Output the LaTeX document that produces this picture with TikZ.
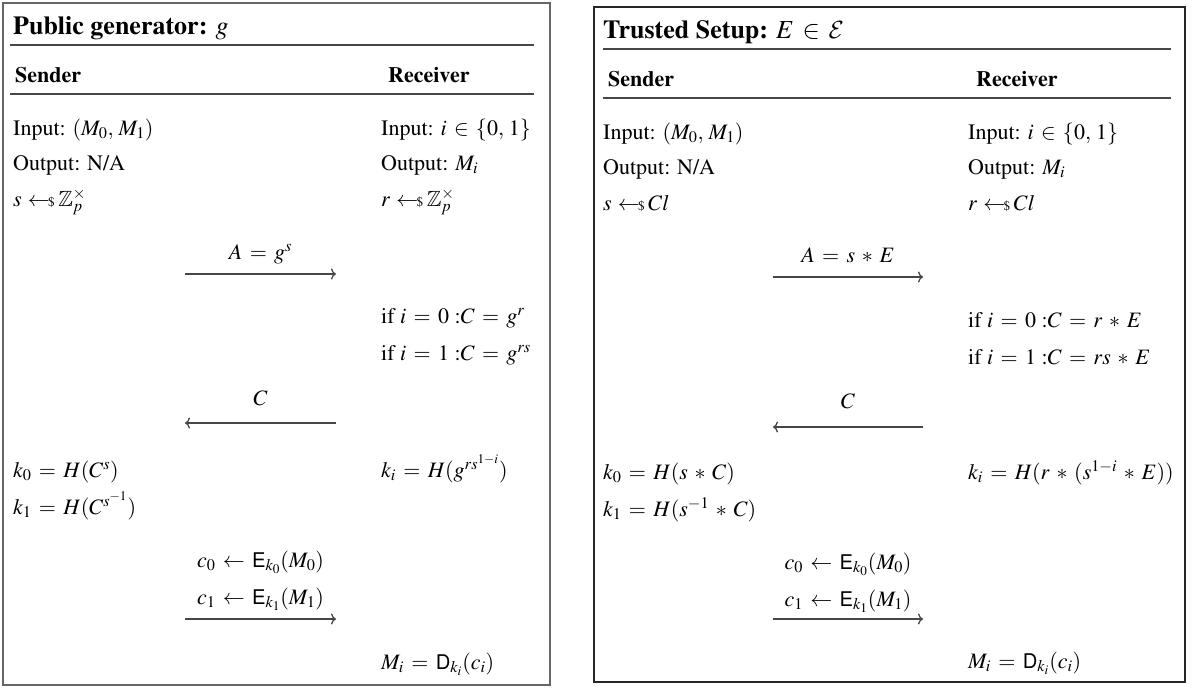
\documentclass[tikz,border=0pt]{standalone}
\usepackage[T1]{fontenc}
\usepackage{mathptmx}
\usepackage[scaled=0.92]{helvet}
\usepackage{amsmath,amssymb}
\DeclareMathAlphabet{\mathcal}{OMS}{cmsy}{m}{n}
\usetikzlibrary{arrows.meta}
\newcommand{\smp}{\mskip5mu{\leftarrow}\mskip-1.5mu{\scriptscriptstyle\$}\mskip3mu}
\newcommand{\cm}{,\,}
\medmuskip=5.5mu plus 2mu minus 2mu
\thickmuskip=6mu plus 3mu minus 1mu
\tikzset{
  txt/.style={anchor=base west,inner sep=0pt,font=\fontsize{22}{26}\selectfont},
  lbl/.style={anchor=base,inner sep=0pt,font=\fontsize{22}{26}\selectfont},
  hdr/.style={anchor=base west,inner sep=0pt,font=\fontsize{22}{26}\selectfont\bfseries},
  ttl/.style={anchor=base west,inner sep=0pt,font=\fontsize{26}{30}\selectfont\bfseries},
  rulex/.style={draw=black!72,line width=1.6pt},
  msg/.style={draw=black!72,line width=1.3pt,-{To[length=5pt,width=11pt]}},
}
\begin{document}
\begin{tikzpicture}[x=1pt,y=-1pt]
\useasboundingbox (0,0) rectangle (1194,688);
% ---------------- left box ----------------
\draw[draw=black!60,line width=1.8pt] (3,3) rectangle (550,685);
\node[ttl] (Ltitle) at (13,34) {Public generator: $g$};
\draw[rulex] (10,45) -- (534,45);
\node[hdr] (Lsend) at (15,82) {Sender};
\node[hdr] (Lrecv) at (388,82) {Receiver};
\draw[rulex] (10,94) -- (534,94);
\node[txt] (Lin1) at (13,135) {Input: $(M_0\cm M_1)$};
\node[txt] (Lin2) at (381,135) {Input: $i \in \{0\cm 1\}$};
\node[txt] (Lout1) at (13,170) {Output: N/A};
\node[txt] (Lout2) at (381,170) {Output: $M_i$};
\node[txt] (Ls) at (13,206) {$s \smp \mathbb{Z}_p^{\times}$};
\node[txt] (Lr) at (381,206) {$r \smp \mathbb{Z}_p^{\times}$};
\coordinate (La1) at (185,274);
\coordinate (La2) at (336,274);
\node[lbl] (LAlbl) at (260.5,259) {$A = g^{s}$};
\draw[msg] (La1) -- (La2);
\node[txt] (Lif0) at (381,323) {if $i = 0$ :$C = g^{r}$};
\node[txt] (Lif1) at (381,360) {if $i = 1$ :$C = g^{rs}$};
\coordinate (Lb1) at (336,423);
\coordinate (Lb2) at (185,423);
\node[lbl] (LClbl) at (260.5,405) {$C$};
\draw[msg] (Lb1) -- (Lb2);
\node[txt] (Lk0) at (13,477) {$k_0 = H(C^{s})$};
\node[txt] (Lki) at (381,477) {$k_i = H(g^{rs^{1-i}})$};
\node[txt] (Lk1) at (13,514) {$k_1 = H(C^{s^{-1}})$};
\node[lbl] (Lc0) at (260.5,567) {$c_0 \leftarrow \textsf{E}_{k_0}(M_0)$};
\node[lbl] (Lc1) at (260.5,604) {$c_1 \leftarrow \textsf{E}_{k_1}(M_1)$};
\coordinate (Lc1a) at (185,619);
\coordinate (Lc1b) at (336,619);
\draw[msg] (Lc1a) -- (Lc1b);
\node[txt] (LMi) at (381,669) {$M_i = \textsf{D}_{k_i}(c_i)$};
% ---------------- right box ----------------
\draw[draw=black!85,line width=1.6pt] (594,7) rectangle (1185,682);
\node[ttl] (Rtitle) at (603,38) {Trusted Setup: $E \in \mathcal{E}$};
\draw[rulex] (603,49) -- (1171,49);
\node[hdr] (Rsend) at (608,86) {Sender};
\node[hdr] (Rrecv) at (976,86) {Receiver};
\draw[rulex] (603,98) -- (1171,98);
\node[txt] (Rin1) at (603,139) {Input: $(M_0\cm M_1)$};
\node[txt] (Rin2) at (968,139) {Input: $i \in \{0\cm 1\}$};
\node[txt] (Rout1) at (603,174) {Output: N/A};
\node[txt] (Rout2) at (968,174) {Output: $M_i$};
\node[txt] (Rs) at (603,210) {$s \smp Cl$};
\node[txt] (Rr) at (968,210) {$r \smp Cl$};
\coordinate (Ra1) at (773,277);
\coordinate (Ra2) at (923,277);
\node[lbl] (RAlbl) at (848,262) {$A = s \ast E$};
\draw[msg] (Ra1) -- (Ra2);
\node[txt] (Rif0) at (968,327) {if $i = 0$ :$C = r \ast E$};
\node[txt] (Rif1) at (968,364) {if $i = 1$ :$C = rs \ast E$};
\coordinate (Rb1) at (923,427);
\coordinate (Rb2) at (773,427);
\node[lbl] (RClbl) at (848,408) {$C$};
\draw[msg] (Rb1) -- (Rb2);
\node[txt] (Rk0) at (603,479) {$k_0 = H(s \ast C)$};
\node[txt] (Rki) at (968,479) {$k_i = H(r \ast (s^{1-i} \ast E))$};
\node[txt] (Rk1) at (603,516) {$k_1 = H(s^{-1} \ast C)$};
\node[lbl] (Rc0) at (848,569) {$c_0 \leftarrow \textsf{E}_{k_0}(M_0)$};
\node[lbl] (Rc1) at (848,606) {$c_1 \leftarrow \textsf{E}_{k_1}(M_1)$};
\coordinate (Rc1a) at (773,619);
\coordinate (Rc1b) at (923,619);
\draw[msg] (Rc1a) -- (Rc1b);
\node[txt] (RMi) at (968,668) {$M_i = \textsf{D}_{k_i}(c_i)$};
\end{tikzpicture}
\end{document}
